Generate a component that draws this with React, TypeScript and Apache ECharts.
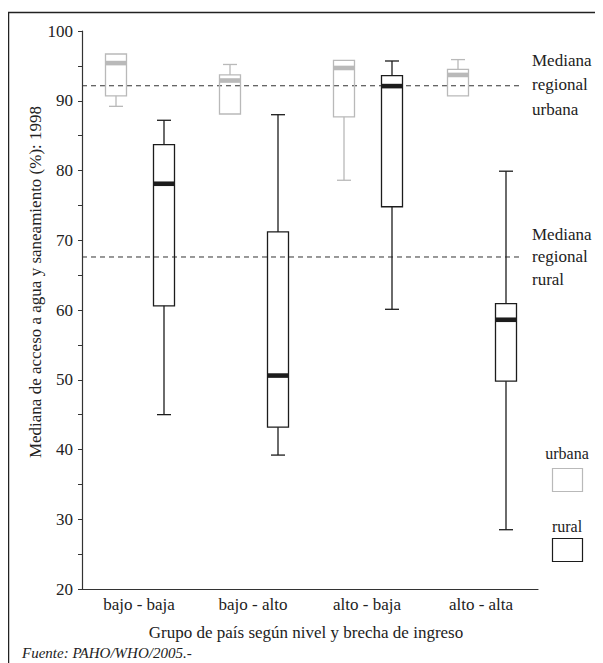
import React, { useEffect, useRef } from "react";
import * as echarts from "echarts";

const categories = ["bajo - baja", "bajo - alto", "alto - baja", "alto - alta"];
// [min, Q1, median, Q3, max]
const urbana = [
  [89.2, 90.7, 95.4, 96.7, 96.7],
  [88.1, 88.1, 92.9, 93.7, 95.2],
  [78.6, 87.7, 94.7, 95.8, 95.8],
  [90.7, 90.7, 93.7, 94.5, 95.9],
];
const rural = [
  [45.0, 60.6, 78.1, 83.7, 87.2],
  [39.2, 43.2, 50.6, 71.2, 88.0],
  [60.1, 74.8, 92.1, 93.6, 95.7],
  [28.5, 49.8, 58.6, 60.9, 79.9],
];
const medianaUrbana = 92.15;
const medianaRural = 67.6;
const yTicks = { min: 20, max: 100, interval: 10 };

const FONT = "Liberation Serif";

function makeRender(offset: number, color: string) {
  return (params: any, api: any) => {
    const i = api.value(0);
    const vMin = api.value(1), q1 = api.value(2), med = api.value(3), q3 = api.value(4), vMax = api.value(5);
    const p = (v: number) => api.coord([i, v]);
    const cx = p(med)[0] + offset;
    const yMin = p(vMin)[1], yQ1 = p(q1)[1], yMed = p(med)[1], yQ3 = p(q3)[1], yMax = p(vMax)[1];
    const bw = 21, cw = 14;
    const ls = { stroke: color, lineWidth: 1.3, fill: "none" };
    const children: any[] = [];
    if (vMax > q3) {
      children.push({ type: "line", shape: { x1: cx, y1: yQ3, x2: cx, y2: yMax }, style: ls });
      children.push({ type: "line", shape: { x1: cx - cw / 2, y1: yMax, x2: cx + cw / 2, y2: yMax }, style: ls });
    }
    if (vMin < q1) {
      children.push({ type: "line", shape: { x1: cx, y1: yQ1, x2: cx, y2: yMin }, style: ls });
      children.push({ type: "line", shape: { x1: cx - cw / 2, y1: yMin, x2: cx + cw / 2, y2: yMin }, style: ls });
    }
    children.push({ type: "rect", shape: { x: cx - bw / 2, y: yQ3, width: bw, height: yQ1 - yQ3 }, style: ls });
    children.push({ type: "rect", shape: { x: cx - bw / 2, y: yMed - 2.3, width: bw, height: 4.6 }, style: { fill: color } });
    return { type: "group", children };
  };
}

function txt(text: string, x: number, y: number, size: number, styleExtra: any = {}, rotation = 0) {
  return {
    type: "text",
    x,
    y,
    rotation,
    style: {
      text,
      fontFamily: FONT,
      fontSize: size,
      fill: "#222",
      align: "center",
      verticalAlign: "middle",
      ...styleExtra,
    },
  };
}

export default function App() {
  const ref = useRef<HTMLDivElement>(null);
  useEffect(() => {
    const chart = echarts.init(ref.current!, null, { renderer: "svg" });
    const gray = "#b9b9b9";
    const black = "#1c1c1c";
    const option: any = {
      animation: false,
      textStyle: { fontFamily: FONT },
      grid: { left: 82, right: 65, top: 31, bottom: 74 },
      xAxis: [
        {
          type: "category",
          data: categories,
          axisLine: { lineStyle: { color: "#333", width: 1.2 } },
          axisTick: { show: false },
          axisLabel: { color: "#222", fontSize: 17, fontFamily: FONT, margin: 7 },
        },
        { type: "value", min: 0, max: 1, show: false },
      ],
      yAxis: {
        type: "value",
        min: yTicks.min,
        max: yTicks.max,
        interval: yTicks.interval,
        splitLine: { show: false },
        axisLine: { show: true, lineStyle: { color: "#333", width: 1.2 } },
        axisTick: { show: true, length: 4, lineStyle: { color: "#333" } },
        minorTick: { show: true, splitNumber: 2, length: 4, lineStyle: { color: "#333" } },
        axisLabel: { color: "#222", fontSize: 17, fontFamily: FONT, margin: 9 },
      },
      series: [
        {
          type: "line",
          xAxisIndex: 1,
          data: [[0, medianaUrbana], [0.965, medianaUrbana]],
          symbol: "none",
          lineStyle: { color: "#333", width: 1, type: [5, 4] },
          z: 1,
        },
        {
          type: "line",
          xAxisIndex: 1,
          data: [[0, medianaRural], [0.965, medianaRural]],
          symbol: "none",
          lineStyle: { color: "#333", width: 1, type: [5, 4] },
          z: 1,
        },
        {
          type: "custom",
          name: "urbana",
          renderItem: makeRender(-23, gray),
          encode: { x: 0, y: [1, 2, 3, 4, 5] },
          data: urbana.map((d, i) => [i, ...d]),
          z: 3,
        },
        {
          type: "custom",
          name: "rural",
          renderItem: makeRender(25, black),
          encode: { x: 0, y: [1, 2, 3, 4, 5] },
          data: rural.map((d, i) => [i, ...d]),
          z: 3,
        },
      ],
      graphic: [
        { type: "rect", shape: { x: 8.5, y: 12.5, width: 700, height: 700 }, style: { fill: "none", stroke: "#222", lineWidth: 1.5 }, z: 10 },
        txt("Mediana de acceso a agua y saneamiento (%): 1998", 35, 282, 17, {}, Math.PI / 2),
        txt("Grupo de país según nivel y brecha de ingreso", 306, 632, 17),
        txt("Fuente: PAHO/WHO/2005.-", 22, 653, 15, { align: "left", fontStyle: "italic" }),
        txt("Mediana\nregional\nurbana", 532, 48, 17, { align: "left", verticalAlign: "top", lineHeight: 24.5 }),
        txt("Mediana\nregional\nrural", 532, 223, 17, { align: "left", verticalAlign: "top", lineHeight: 22.5 }),
        txt("urbana", 567, 453, 16),
        { type: "rect", shape: { x: 552.5, y: 468.5, width: 30, height: 23 }, style: { fill: "#fff", stroke: gray, lineWidth: 1.2 } },
        txt("rural", 567, 526, 16),
        { type: "rect", shape: { x: 552.5, y: 538.5, width: 30, height: 23 }, style: { fill: "#fff", stroke: black, lineWidth: 1.2 } },
      ],
    };
    chart.setOption(option);
    return () => chart.dispose();
  }, []);
  return (
    <div
      ref={ref}
      style={{ width: 603, height: 663, marginLeft: -8, marginTop: -8, fontFamily: "Liberation Serif" }}
    />
  );
}
